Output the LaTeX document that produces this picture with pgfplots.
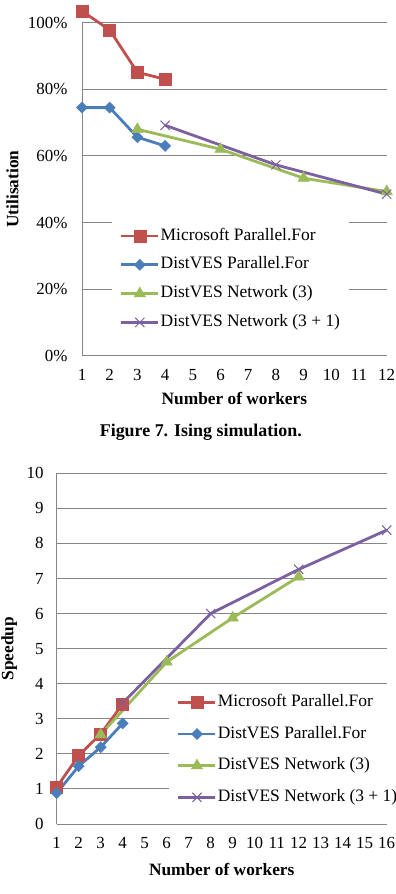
\documentclass[border=0pt]{standalone}
\usepackage{pgfplots}
\pgfplotsset{compat=1.18}
\usepackage{fontspec}
\setmainfont{Liberation Serif}
\definecolor{cRed}{RGB}{192,80,77}
\definecolor{cBlue}{RGB}{74,126,187}
\definecolor{cGreen}{RGB}{155,187,89}
\definecolor{cPurple}{RGB}{125,96,160}
\definecolor{gridgray}{RGB}{134,134,134}
\begin{document}
\begin{tikzpicture}
\path[use as bounding box] (0bp,0bp) rectangle (396bp,894bp);
\pgfplotsset{
  myaxis/.style={
    scale only axis,
    axis x line=bottom, axis y line=left,
    axis line style={-, draw=gridgray, line width=0.9bp},
    ymajorgrids,
    major grid style={draw=gridgray, line width=0.9bp},
    major tick length=0pt,
    tick label style={font=\fontsize{17}{20}\selectfont},
    /pgf/number format/assume math mode=true,
    label style={font=\bfseries\fontsize{17.4}{20}\selectfont},
    xticklabel style={yshift=-10bp},
    clip=false,
    legend cell align=left,
    legend style={draw=none, fill=white, inner sep=8bp, anchor=north west,
      nodes={inner sep=1bp, text height=12bp, text depth=4bp, font=\fontsize{17.5}{20}\selectfont}},
    legend image code/.code={\draw[mark repeat=2, mark phase=2, ##1] plot coordinates {(0bp,0bp) (18.5bp,0bp) (37bp,0bp)};},
  },
  sRed/.style={draw=cRed, line width=2.8bp, mark=square*, mark size=6bp, mark options={fill=cRed, draw=cRed, line width=0.5bp}},
  sBlue/.style={draw=cBlue, line width=2.8bp, mark=square*, mark size=3.9bp, mark options={fill=cBlue, draw=cBlue, rotate=45, line width=0.5bp}},
  sGreen/.style={draw=cGreen, line width=2.8bp, mark=triangle*, mark size=6.5bp, mark options={fill=cGreen, draw=cGreen, line width=0.5bp}},
  sPurple/.style={draw=cPurple, line width=2.8bp, mark=x, mark size=6.5bp, mark options={draw=cPurple, line width=1bp}},
}
% ---------------- top chart ----------------
\begin{axis}[myaxis,
  at={(82bp,538.3bp)}, anchor=south west,
  width=304.7bp, height=333bp,
  xmin=1, xmax=12, ymin=0, ymax=100,
  xtick={1,2,3,4,5,6,7,8,9,10,11,12},
  ytick={0,20,40,60,80,100},
  yticklabels={0\%,20\%,40\%,60\%,80\%,100\%},
  yticklabel style={xshift=-11bp},
  xlabel={Number of workers},
  ylabel={Utilisation},
  xlabel style={at={(axis description cs:0.5,-0.130)}, anchor=center},
  ylabel style={at={(axis description cs:-0.228,0.5)}, anchor=center},
  legend style={at={(0.0975,0.411)}, row sep=10.8bp},
]
\addplot[sRed] coordinates {(1,103.5) (2,97.8) (3,85.1) (4,83)};
\addlegendentry{Microsoft Parallel.For}
\addplot[sBlue] coordinates {(1,74.5) (2,74.5) (3,65.6) (4,63)};
\addlegendentry{DistVES Parallel.For}
\addplot[sGreen] coordinates {(3,68) (6,62) (9,53.3) (12,49.3)};
\addlegendentry{DistVES Network (3)}
\addplot[sPurple] coordinates {(4,69.2) (8,57.3) (12,48.5)};
\addlegendentry{DistVES Network (3 + 1)}
\end{axis}
\node[font=\bfseries\fontsize{18}{21}\selectfont, anchor=base] at (200.8bp,457.3bp) {Figure 7. Ising simulation.};
% ---------------- bottom chart ----------------
\begin{axis}[myaxis,
  at={(56.7bp,70bp)}, anchor=south west,
  width=330bp, height=350.7bp,
  xmin=1, xmax=16, ymin=0, ymax=10,
  xtick={1,2,3,4,5,6,7,8,9,10,11,12,13,14,15,16},
  ytick={0,1,2,3,4,5,6,7,8,9,10},
  yticklabel style={xshift=-9.5bp},
  xlabel={Number of workers},
  ylabel={Speedup},
  xlabel style={at={(axis description cs:0.5,-0.1297)}, anchor=center},
  ylabel style={at={(axis description cs:-0.144,0.5)}, anchor=center},
  legend style={at={(0.340,0.3955)}, row sep=13.6bp},
]
\addplot[sRed] coordinates {(1,1.05) (2,1.95) (3,2.57) (4,3.42)};
\addlegendentry{Microsoft Parallel.For}
\addplot[sBlue] coordinates {(1,0.88) (2,1.65) (3,2.19) (4,2.87)};
\addlegendentry{DistVES Parallel.For}
\addplot[sGreen] coordinates {(3,2.55) (6,4.62) (9,5.88) (12,7.05)};
\addlegendentry{DistVES Network (3)}
\addplot[sPurple] coordinates {(4,3.45) (8,6.0) (12,7.26) (16,8.38)};
\addlegendentry{DistVES Network (3 + 1)}
\end{axis}
\end{tikzpicture}
\end{document}
